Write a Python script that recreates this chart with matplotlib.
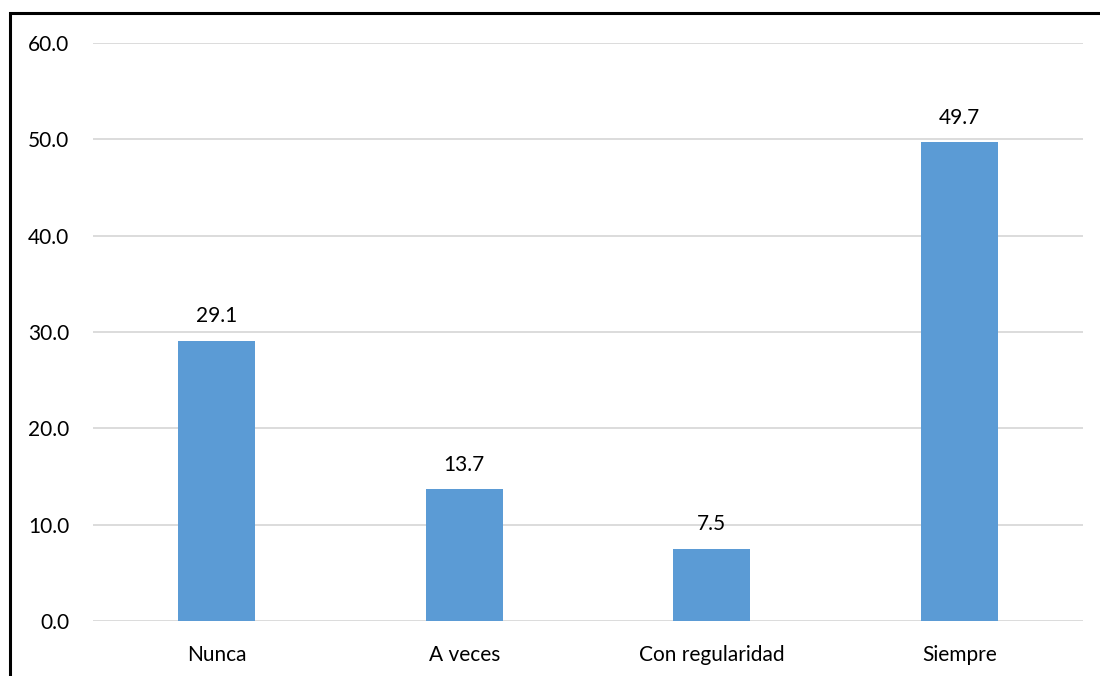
import matplotlib.pyplot as plt
from matplotlib.patches import Rectangle

# datos del gráfico
categorias = ['Nunca', 'A veces', 'Con regularidad', 'Siempre']
porcentajes = [29.1, 13.7, 7.5, 49.7]
ticks_y = [0, 10, 20, 30, 40, 50, 60]

plt.rcParams['font.family'] = ['Lato', 'DejaVu Sans']
plt.rcParams['font.size'] = 15

fig = plt.figure(figsize=(11, 6.76), dpi=100)
ax = fig.add_axes([0.0845, 0.0814, 0.9, 0.855])

x = range(len(categorias))
ax.bar(x, porcentajes, width=0.31, color='#5b9bd5', zorder=3)

for xi, v in zip(x, porcentajes):
    ax.text(xi, v + 1.5, f'{v:.1f}', ha='center', va='bottom', fontsize=15, color='#000000')

ax.set_xlim(-0.5, len(categorias) - 0.5)
ax.set_ylim(0, 60)
ax.set_yticks(ticks_y)
ax.set_yticklabels([f'{t:.1f}' for t in ticks_y])
ax.set_xticks(list(x))
ax.set_xticklabels(categorias)
ax.grid(axis='y', color='#d9d9d9', linewidth=1.3, zorder=0)
ax.tick_params(axis='both', length=0, labelsize=15)
ax.tick_params(axis='x', pad=17)
ax.tick_params(axis='y', pad=17)
for s in ax.spines.values():
    s.set_visible(False)

# marco negro (solo se ve arriba e izquierda)
fig.patches.append(Rectangle((10 / 1100, -0.1), 1.2, 1 - 13 / 676 + 0.1,
                             transform=fig.transFigure, fill=False,
                             edgecolor='black', linewidth=2.2))

fig.savefig('out.png', dpi=100)
